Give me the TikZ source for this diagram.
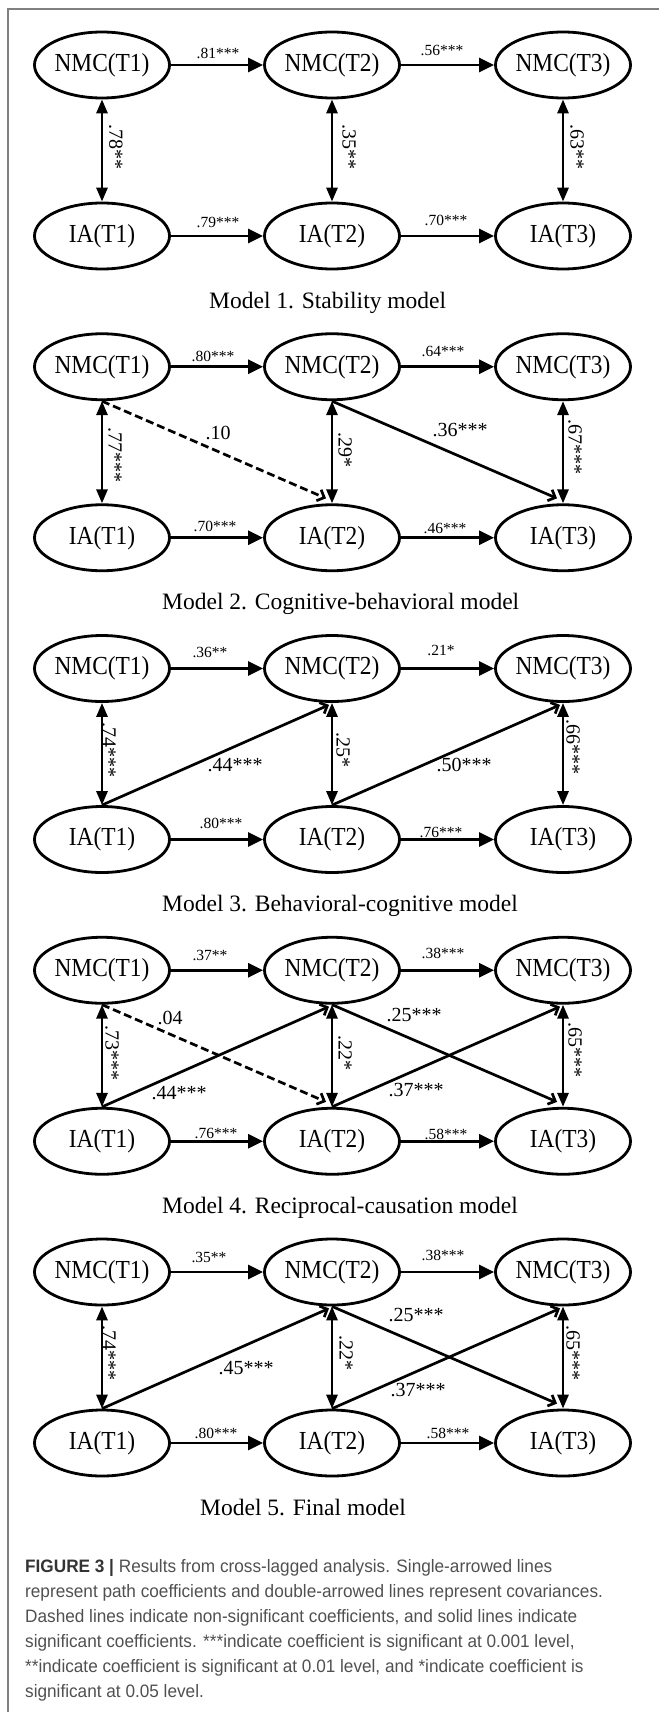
\documentclass[tikz,border=0pt]{standalone}
\usepackage{fontspec}
\setmainfont{Liberation Serif}
\newfontfamily\nodefont{Liberation Serif}[FakeStretch=0.9]
\newfontfamily\capfont{Liberation Sans}[FakeStretch=0.955]
\usetikzlibrary{shapes.geometric,arrows.meta}
\definecolor{capgray}{HTML}{505050}
\definecolor{capdark}{HTML}{333333}
\definecolor{framegray}{HTML}{808080}
\tikzset{
  ell/.style={ellipse, draw, line width=2.8pt, minimum width=135pt, minimum height=66pt, inner sep=0pt, font=\nodefont\fontsize{26}{28}\selectfont},
  harr/.style={line width=2.8pt, -{Triangle[length=15pt,width=14pt]}},
  varr/.style={line width=2.8pt, {Triangle[length=14pt,width=11pt]}-{Triangle[length=14pt,width=11pt]}},
  darr/.style={line width=2.7pt, -{Straight Barb[length=6pt,width=12pt]}},
  ns/.style={dash pattern=on 8pt off 4pt},
  sl/.style={font=\fontsize{15.5}{16}\selectfont, inner sep=0pt},
  bl/.style={font=\fontsize{20}{22}\selectfont, inner sep=0pt},
  vl/.style={bl, rotate=-90},
  mcap/.style={font=\fontsize{23.5}{26}\selectfont, anchor=base west, inner sep=0pt},
  fcap/.style={font=\capfont\fontsize{18}{25}\selectfont, text=capgray, anchor=base west, inner sep=0pt},
  dnend/.style={xshift=-6pt,yshift=5pt},
  upend/.style={xshift=-3pt,yshift=-2pt},
}
\newcommand\basemodel[2]{%
  \node[ell] (n1#1) at (102,{65+#2}) {NMC(T1)};
  \node[ell] (n2#1) at (332,{65+#2}) {NMC(T2)};
  \node[ell] (n3#1) at (563,{65+#2}) {NMC(T3)};
  \node[ell] (i1#1) at (102,{236+#2}) {IA(T1)};
  \node[ell] (i2#1) at (332,{236+#2}) {IA(T2)};
  \node[ell] (i3#1) at (563,{236+#2}) {IA(T3)};
  \draw[harr] (n1#1) -- (n2#1);
  \draw[harr] (n2#1) -- (n3#1);
  \draw[harr] (i1#1) -- (i2#1);
  \draw[harr] (i2#1) -- (i3#1);
  \draw[varr] (n1#1) -- (i1#1);
  \draw[varr] (n2#1) -- (i2#1);
  \draw[varr] (n3#1) -- (i3#1);
}
\def\oA{0}
\def\oB{301.75}
\def\oC{603.5}
\def\oD{905.25}
\def\oE{1207}
\begin{document}
\begin{tikzpicture}[x=1pt,y=-1pt]
\useasboundingbox (0,0) rectangle (659,1712);
\draw[framegray, line width=1.2pt] (8,1712) -- (8,9) -- (659,9);

% ---------------- Model 1
\basemodel{a}{\oA}
\node[sl] (la1) at (218,53) {.81***};
\node[sl] (la2) at (442,50) {.56***};
\node[sl] (la3) at (218,222) {.79***};
\node[sl] (la4) at (446,220) {.70***};
\node[vl] (la5) at (116,147) {.78**};
\node[vl] (la6) at (349,147) {.35**};
\node[vl] (la7) at (577,147) {.63**};
\node[mcap] (ma) at (209,308) {Model 1. Stability model};

% ---------------- Model 2
\basemodel{b}{\oB}
\draw[darr,ns] (n1b.south) -- ([dnend]i2b.north);
\draw[darr] (n2b.south) -- ([dnend]i3b.north);
\node[sl] (lb1) at (213,{55+\oB}) {.80***};
\node[sl] (lb2) at (443,{50+\oB}) {.64***};
\node[sl] (lb3) at (215,{225+\oB}) {.70***};
\node[sl] (lb4) at (445,{227+\oB}) {.46***};
\node[vl] (lb5) at (115,{153+\oB}) {.77***};
\node[vl] (lb6) at (345,{148+\oB}) {.29*};
\node[vl] (lb7) at (575,{145+\oB}) {.67***};
\node[bl] (lb8) at (218,{131+\oB}) {.10};
\node[bl] (lb9) at (460,{128+\oB}) {.36***};
\node[mcap] (mb) at (162,{308+\oB}) {Model 2. Cognitive-behavioral model};

% ---------------- Model 3
\basemodel{c}{\oC}
\draw[darr] (i1c.north) -- ([upend]n2c.south);
\draw[darr] (i2c.north) -- ([upend]n3c.south);
\node[sl] (lc1) at (210,{48.5+\oC}) {.36**};
\node[sl] (lc2) at (441,{46.5+\oC}) {.21*};
\node[sl] (lc3) at (221,{219.5+\oC}) {.80***};
\node[sl] (lc4) at (441,{228.5+\oC}) {.76***};
\node[vl] (lc5) at (109,{146.5+\oC}) {.74***};
\node[vl] (lc6) at (343,{146.5+\oC}) {.25*};
\node[vl] (lc7) at (573,{143.5+\oC}) {.66***};
\node[bl] (lc8) at (235,{161.5+\oC}) {.44***};
\node[bl] (lc9) at (464,{161.5+\oC}) {.50***};
\node[mcap] (mc) at (162,{308+\oC}) {Model 3. Behavioral-cognitive model};

% ---------------- Model 4
\basemodel{d}{\oD}
\draw[darr,ns] (n1d.south) -- ([dnend]i2d.north);
\draw[darr] (i1d.north) -- ([upend]n2d.south);
\draw[darr] (n2d.south) -- ([dnend]i3d.north);
\draw[darr] (i2d.north) -- ([upend]n3d.south);
\node[sl] (ld1) at (210,{50+\oD}) {.37**};
\node[sl] (ld2) at (443,{48+\oD}) {.38***};
\node[sl] (ld3) at (216,{228+\oD}) {.76***};
\node[sl] (ld4) at (446,{229+\oD}) {.58***};
\node[vl] (ld5) at (112,{148+\oD}) {.73***};
\node[vl] (ld6) at (345,{148+\oD}) {.22*};
\node[vl] (ld7) at (575,{145+\oD}) {.65***};
\node[bl] (ld8) at (170,{113+\oD}) {.04};
\node[bl] (ld9) at (179,{188+\oD}) {.44***};
\node[bl] (ld10) at (414,{110+\oD}) {.25***};
\node[bl] (ld11) at (416,{185+\oD}) {.37***};
\node[mcap] (md) at (162,{308+\oD}) {Model 4. Reciprocal-causation model};

% ---------------- Model 5
\basemodel{e}{\oE}
\draw[darr] (i1e.north) -- ([upend]n2e.south);
\draw[darr] (n2e.south) -- ([dnend]i3e.north);
\draw[darr] (i2e.north) -- ([upend]n3e.south);
\node[sl] (le1) at (209,{50+\oE}) {.35**};
\node[sl] (le2) at (443,{48+\oE}) {.38***};
\node[sl] (le3) at (216,{226+\oE}) {.80***};
\node[sl] (le4) at (448,{226+\oE}) {.58***};
\node[vl] (le5) at (109,{146+\oE}) {.74***};
\node[vl] (le6) at (346,{146+\oE}) {.22*};
\node[vl] (le7) at (573,{146+\oE}) {.65***};
\node[bl] (le8) at (246,{161+\oE}) {.45***};
\node[bl] (le9) at (416,{108+\oE}) {.25***};
\node[bl] (le10) at (418,{183+\oE}) {.37***};
\node[mcap] (me) at (200,{308+\oE}) {Model 5. Final model};

% ---------------- Figure caption
\node[fcap] (c1) at (25,1572) {{\bfseries\color{capdark}FIGURE 3 |} Results from cross-lagged analysis. Single-arrowed lines};
\node[fcap] (c2) at (25,1597) {represent path coefficients and double-arrowed lines represent covariances.};
\node[fcap] (c3) at (25,1622) {Dashed lines indicate non-significant coefficients, and solid lines indicate};
\node[fcap] (c4) at (25,1647) {significant coefficients. ***indicate coefficient is significant at 0.001 level,};
\node[fcap] (c5) at (25,1672) {**indicate coefficient is significant at 0.01 level, and *indicate coefficient is};
\node[fcap] (c6) at (25,1697) {significant at 0.05 level.};
\end{tikzpicture}
\end{document}
